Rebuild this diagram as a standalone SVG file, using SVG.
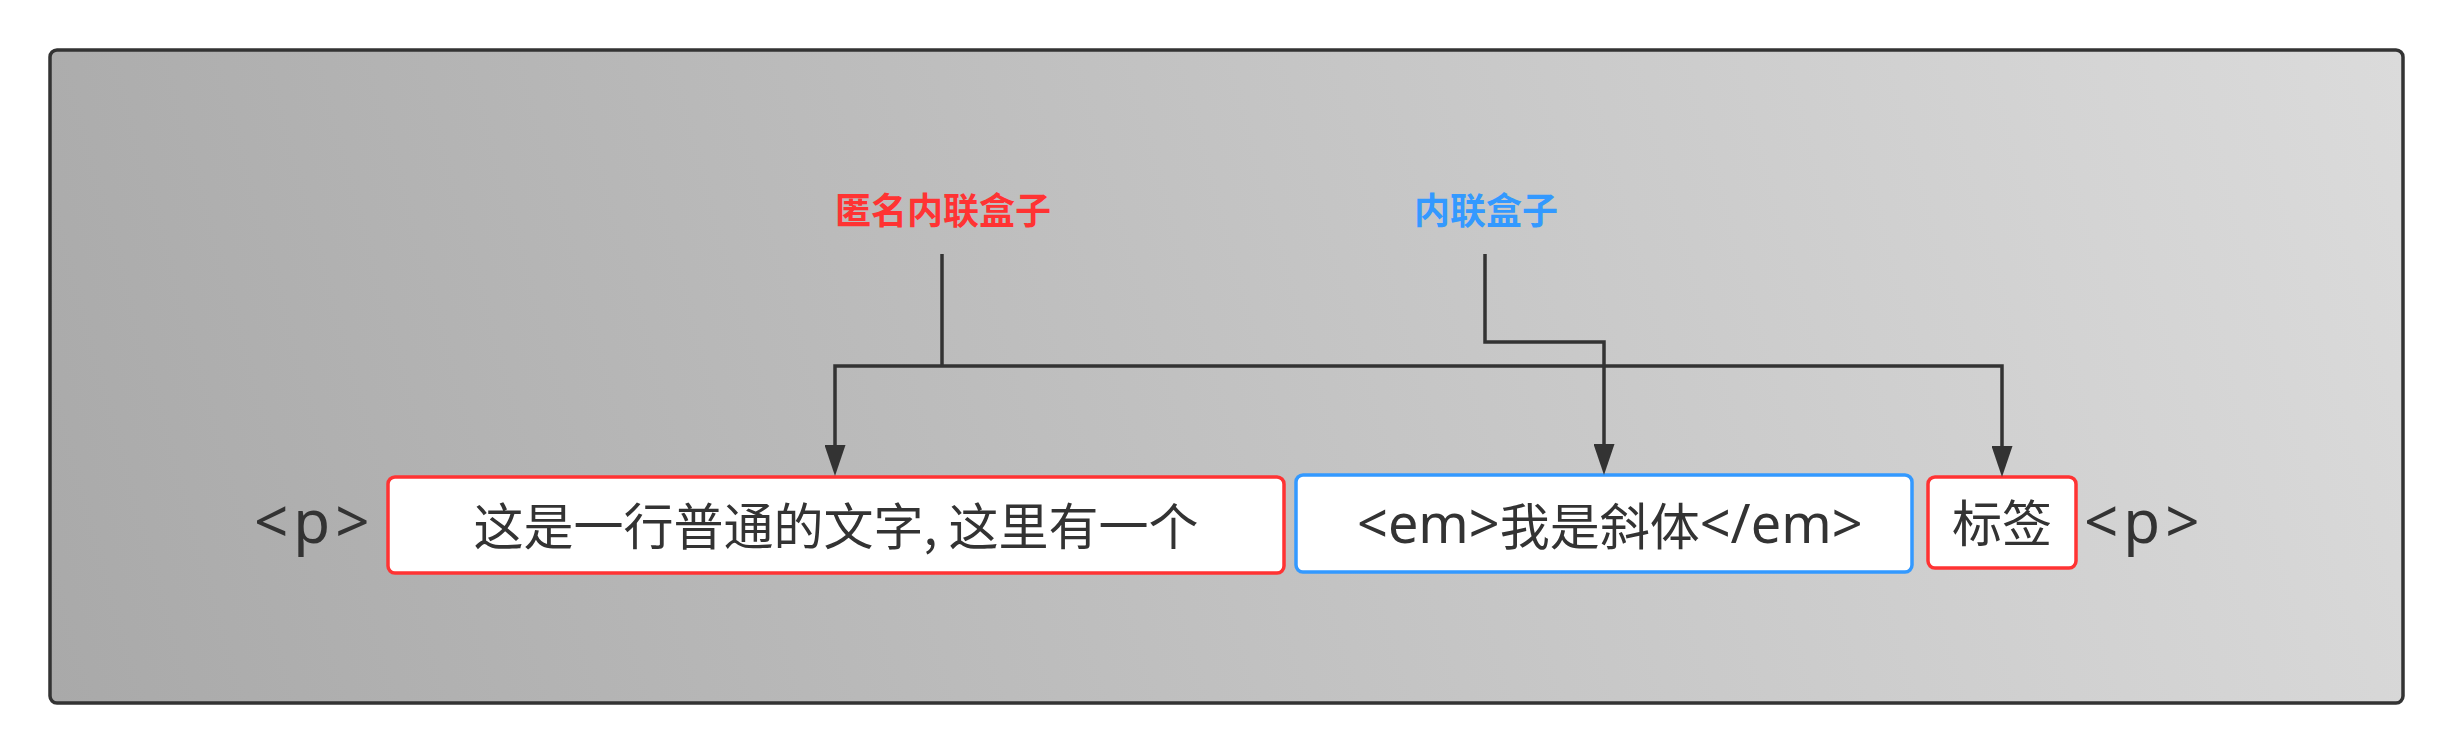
<svg xmlns="http://www.w3.org/2000/svg" width="2454" height="754" viewBox="0 0 2454 754">
<style>
.txt{font-family:"Noto Sans CJK SC","Noto Sans",sans-serif;font-size:50px;fill:#333333}
.mid{text-anchor:middle}
.lat{font-family:"Noto Sans","Noto Sans CJK SC",sans-serif;font-size:54px}
.ptag{font-family:"Noto Sans","Noto Sans CJK SC",sans-serif;font-size:60px;letter-spacing:5px}
.lbl{font-family:"Noto Sans CJK SC","Noto Sans",sans-serif;font-size:36px;font-weight:bold;text-anchor:middle}
.box{fill:#ffffff;stroke-width:3.5}
.conn{fill:none;stroke:#333333;stroke-width:3.5}
</style>
<defs>
<linearGradient id="bg" gradientUnits="userSpaceOnUse" x1="50" y1="703" x2="2403" y2="50">
<stop offset="0" stop-color="#a9a9a9"/>
<stop offset="1" stop-color="#dbdbdb"/>
</linearGradient>
<marker id="arr" viewBox="0 0 31 21" refX="2" refY="10.5" markerWidth="31" markerHeight="21" markerUnits="userSpaceOnUse" orient="auto">
<path d="M0,0 L31,10.5 L0,21 z" fill="#333333"/>
</marker>
</defs>
<rect x="0" y="0" width="2454" height="754" fill="#ffffff"/>
<g id="container">
<rect x="50" y="50" width="2353" height="653" rx="7" fill="url(#bg)" stroke="#333333" stroke-width="3.5"/>
</g>
<g id="label-anon">
<text class="lbl" x="943" y="224" fill="#ff3333">匿名内联盒子</text>
</g>
<g id="label-inline">
<text class="lbl" x="1486" y="224" fill="#3399ff">内联盒子</text>
</g>
<g id="p-open">
<text class="txt ptag" x="254" y="543">&lt;p&gt;</text>
</g>
<g id="box-anon1">
<rect class="box" x="388" y="477" width="896" height="96" rx="7" stroke="#ff3333"/>
<text class="txt mid" x="836" y="545">这是一行普通的文字, 这里有一个</text>
</g>
<g id="box-em">
<rect class="box" x="1296" y="475" width="616" height="97" rx="7" stroke="#3399ff"/>
<text class="txt" x="1357" y="543"><tspan class="lat">&lt;em&gt;</tspan><tspan y="545">我是斜体</tspan><tspan class="lat" y="543">&lt;/em&gt;</tspan></text>
</g>
<g id="box-anon2">
<rect class="box" x="1928" y="477" width="148" height="91" rx="7" stroke="#ff3333"/>
<text class="txt mid" x="2002" y="542">标签</text>
</g>
<g id="p-close">
<text class="txt ptag" x="2084" y="543">&lt;p&gt;</text>
</g>
<g id="connectors">
<path class="conn" d="M942,254 V366"/>
<path class="conn" d="M942,366 H835 V447" marker-end="url(#arr)"/>
<path class="conn" d="M942,366 H2002 V448" marker-end="url(#arr)"/>
<path class="conn" d="M1485,254 V342 H1604 V446" marker-end="url(#arr)"/>
</g>
</svg>
